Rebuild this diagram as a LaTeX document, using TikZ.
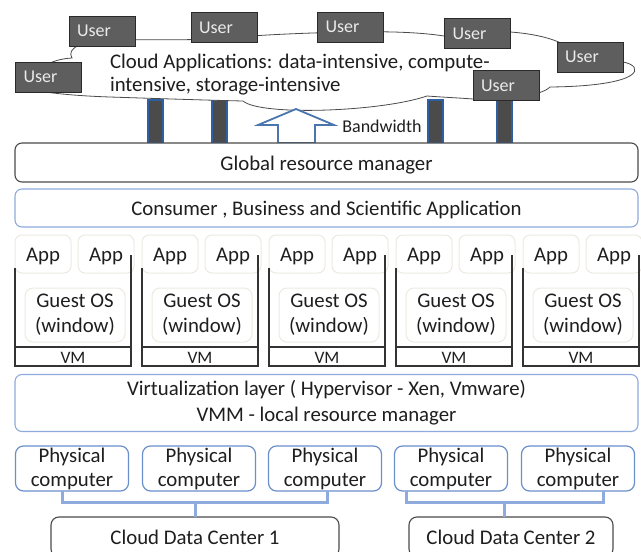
\documentclass[tikz,border=0pt]{standalone}
\usepackage{fontspec}
\setmainfont{Carlito}
\definecolor{dkgray}{HTML}{4A4A4A}
\definecolor{lblue}{HTML}{8FAADC}
\definecolor{mblue}{HTML}{6A8FCB}
\definecolor{faint}{HTML}{ECE9E0}
\definecolor{userfill}{HTML}{5E5E5E}
\definecolor{userline}{HTML}{2A2A2A}
\definecolor{pillfill}{HTML}{4B4B4B}
\definecolor{pillblue}{HTML}{2E5FA3}
\definecolor{arrowblue}{HTML}{4A76AE}
\definecolor{txt}{HTML}{1E1E1E}
\definecolor{vmcol}{HTML}{333333}
\begin{document}
\begin{tikzpicture}[x=1pt,y=-1pt,
  every node/.style={inner sep=0pt, outer sep=0pt, text=txt, font=\fontsize{20.8}{25}\selectfont},
  lowtext/.style={text height=17pt, text depth=2pt},
  layerbox/.style={draw=#1, line width=1.1pt, rounded corners=7pt, fill=white, minimum width=623pt},
  userbox/.style={draw=userline, fill=userfill, line width=1pt, minimum height=30pt, text width=50pt, inner xsep=8pt, align=left, text=white!92!black, font=\fontsize{18}{22}\selectfont},
  pillar/.style={draw=pillblue, fill=pillfill, line width=1.3pt, minimum width=15pt, minimum height=43pt},
  cloudline/.style={draw=dkgray, line width=0.8pt, fill=white},
  arrowline/.style={draw=arrowblue, line width=1.8pt, fill=white, line join=miter},
  appbox/.style={draw=faint, line width=1pt, rounded corners=7pt, minimum width=56pt, minimum height=38pt, lowtext},
  osbox/.style={draw=faint, line width=1pt, rounded corners=8pt, minimum width=100pt, minimum height=54pt, align=center},
  vmbox/.style={draw=vmcol, line width=1.1pt, minimum width=116pt, minimum height=19pt, font=\fontsize{17.5}{20}\selectfont, text height=14pt, text depth=1pt},
  vmline/.style={draw=vmcol, line width=1.1pt},
  pcbox/.style={draw=mblue, line width=1.2pt, rounded corners=8pt, minimum width=113pt, minimum height=45pt, align=center, font=\fontsize{20.8}{24}\selectfont},
  dcbox/.style={draw=dkgray, line width=1.1pt, rounded corners=8pt, fill=white, minimum height=40pt},
  conn/.style={draw=lblue, line width=3pt}
]
\useasboundingbox (0,0) rectangle (641,552);
\clip (0,0) rectangle (641,552);

% pillars
\foreach \px [count=\n] in {155.5,219.5,435.5,504.5}
  \node[pillar] (p\n) at (\px,121.5) {};

% cloud
\path[cloudline] (72,58)
 .. controls (66,48) and (82,41) .. (110,40)
 .. controls (150,39) and (190,41) .. (225,38)
 .. controls (260,35) and (300,33) .. (350,32)
 .. controls (395,31) and (425,33) .. (444,36)
 .. controls (480,28) and (535,30) .. (563,44)
 .. controls (590,50) and (610,56) .. (623,62)
 .. controls (645,66) and (645,86) .. (550,87)
 .. controls (540,97) and (500,100) .. (473,99)
 .. controls (460,98) and (440,97) .. (427,96)
 .. controls (380,112) and (260,116) .. (243,101)
 .. controls (200,100) and (140,98) .. (110,97)
 .. controls (80,96) and (60,94) .. (45,92)
 .. controls (20,88) and (35,60) .. (72,58) -- cycle;

\node[anchor=west, align=left, font=\fontsize{20.8}{23.5}\selectfont] (cloudtext) at (110,74.5)
  {Cloud Applications: data-intensive, compute-\\intensive, storage-intensive};

% users
\node[userbox] (u1) at (102,31) {User};
\node[userbox] (u2) at (224,27.5) {User};
\node[userbox] (u3) at (350.5,27) {User};
\node[userbox] (u4) at (477.5,33.5) {User};
\node[userbox] (u5) at (590,57) {User};
\node[userbox] (u6) at (506,85.5) {User};
\node[userbox] (u7) at (48.5,77) {User};

% bandwidth arrow
\draw[arrowline] (278,143) -- (278,125) -- (258,125) -- (296,109) -- (334,125) -- (315,125) -- (315,143) -- cycle;
\node[font=\fontsize{18}{22}\selectfont] (bw) at (382,126) {Bandwidth};

% layers
\node[layerbox=dkgray, minimum height=39pt, lowtext] (grm) at (326.5,162.5) {Global resource manager};
\node[layerbox=lblue, minimum height=38pt, lowtext] (cba) at (326.5,208) {Consumer , Business and Scientific Application};

% VM columns
\foreach \L [count=\i] in {15,142,269,396,523}{
  \node[appbox] (a\i) at (\L+28,254) {App};
  \node[appbox] (b\i) at (\L+91,254) {App};
  \node[osbox] (g\i) at (\L+60,315) {Guest OS\\(window)};
  \node[vmbox] (v\i) at (\L+58,356.5) {VM};
  \draw[vmline] (v\i.north west) -- ++(0,-79);
  \draw[vmline] (v\i.north east) -- ++(0,-92);
}

\node[layerbox=lblue, minimum height=57pt, align=center, font=\fontsize{20.8}{26}\selectfont] (virt) at (326.5,403)
  {Virtualization layer ( Hypervisor - Xen, Vmware)\\VMM - local resource manager};

% physical computers
\foreach \cx [count=\i] in {72,199,325,451,578}
  \node[pcbox] (pc\i) at (\cx,468.5) {Physical\\computer};

% data centers
\node[dcbox, minimum width=288pt, anchor=north] (dc1) at (195,517) {Cloud Data Center 1};
\node[dcbox, minimum width=204pt, anchor=north] (dc2) at (511,517) {Cloud Data Center 2};

% connectors
\coordinate (j1) at (195,502.5);
\coordinate (j2) at (504,502.5);
\draw[conn] ([xshift=-10pt]pc1.south) |- (j1) -| ([xshift=2pt]pc3.south);
\draw[conn] (j1) -- (dc1.north);
\draw[conn] ([xshift=-45pt]pc4.south) |- (j2) -| ([xshift=25pt]pc5.south);
\draw[conn] (j2) -- (j2 |- dc2.north);
\end{tikzpicture}
\end{document}
